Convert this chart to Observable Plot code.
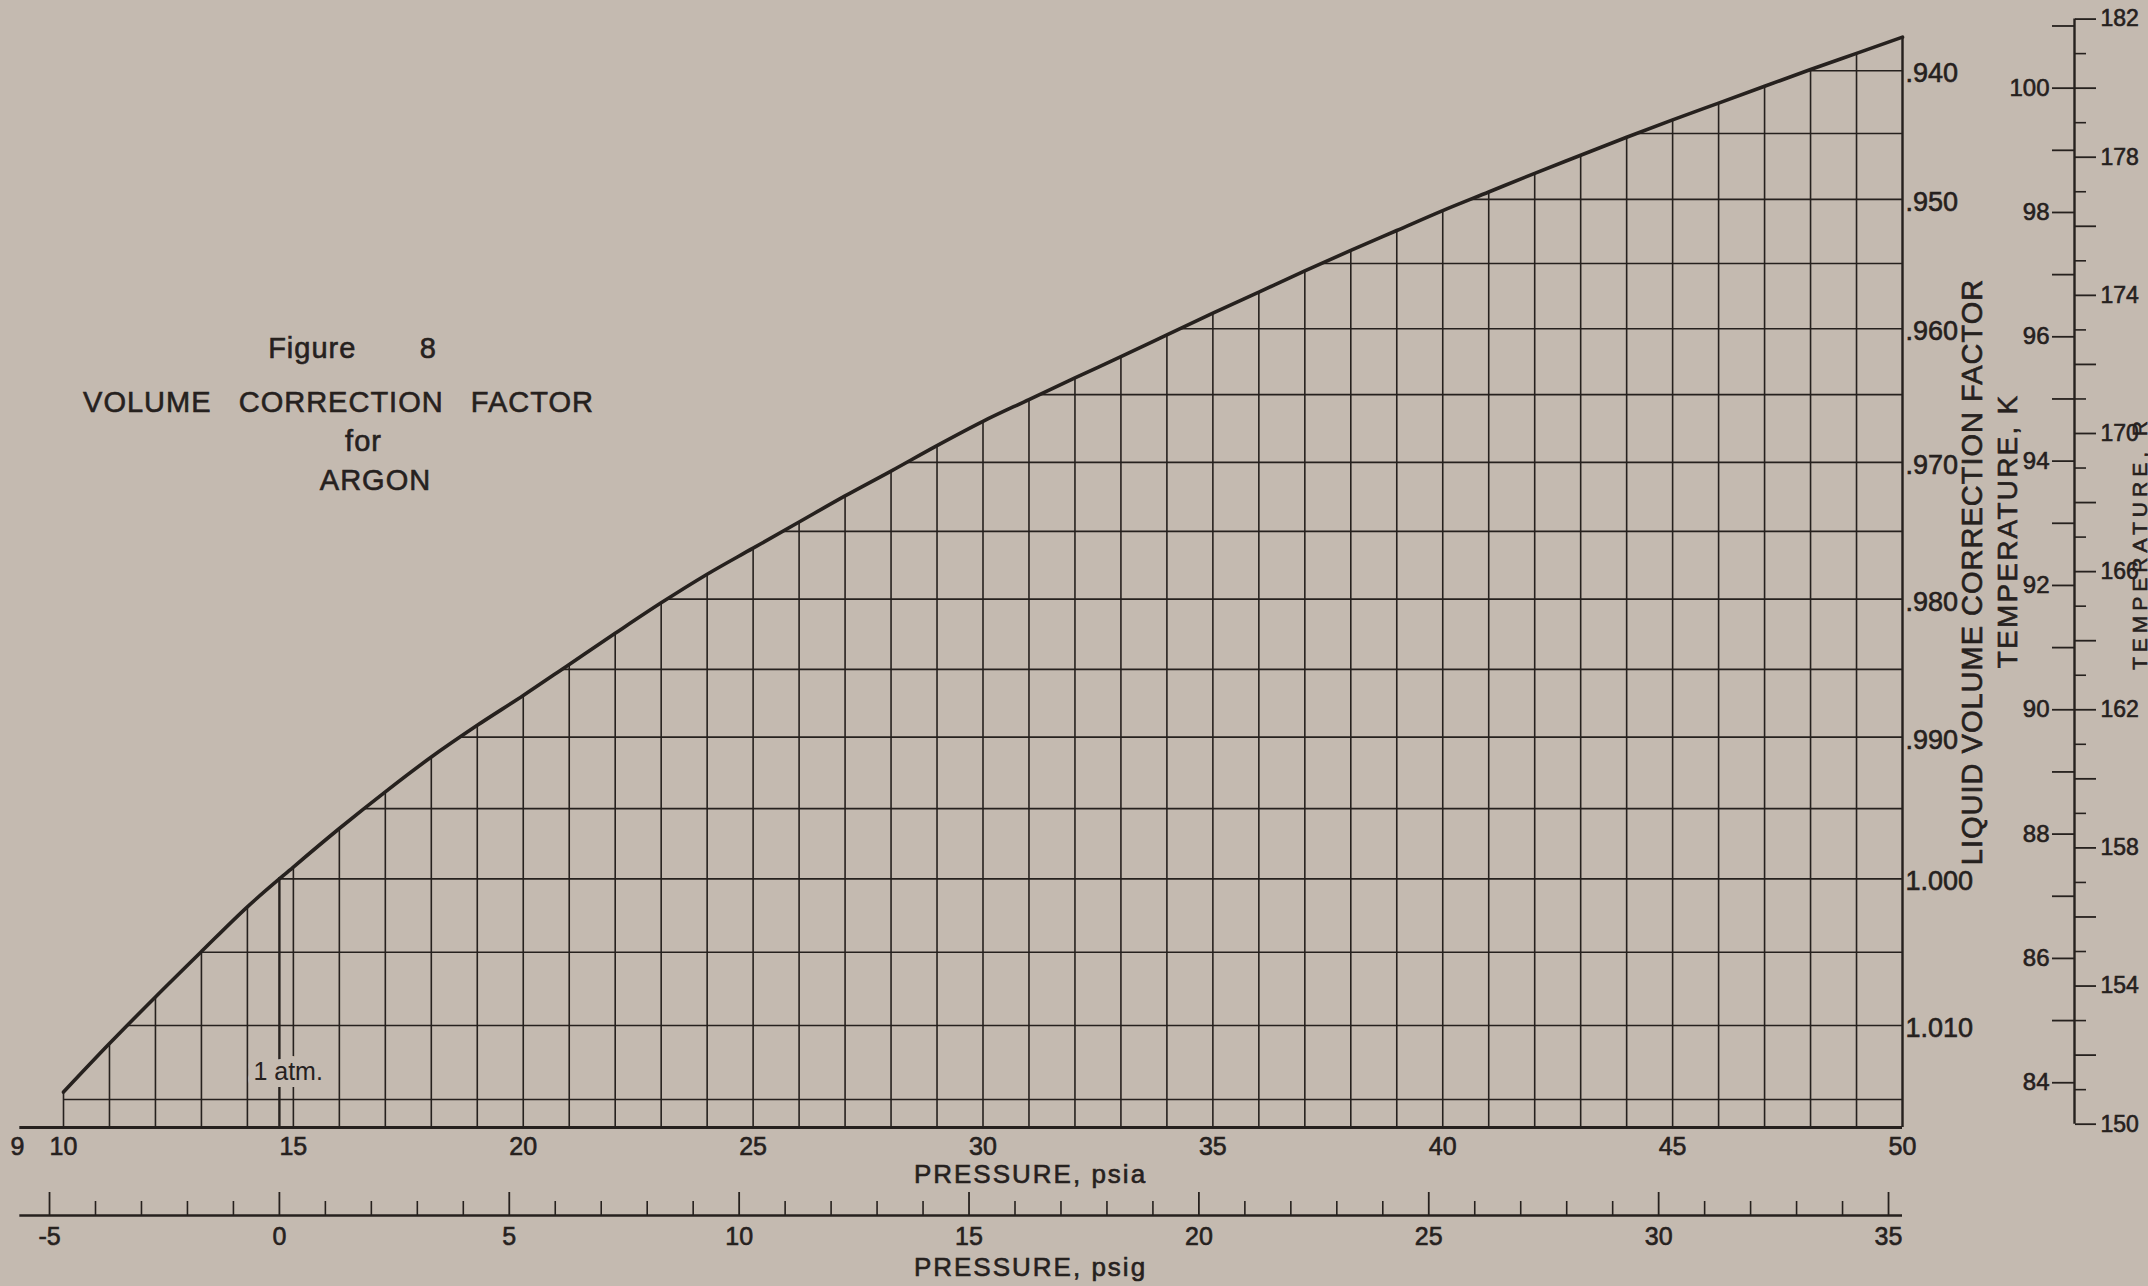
<!DOCTYPE html>
<html>
<head>
<meta charset="utf-8">
<script src="https://cdn.jsdelivr.net/npm/d3@7"></script>
<script src="https://cdn.jsdelivr.net/npm/@observablehq/plot@0.6"></script>
<style>
  html, body { margin: 0; padding: 0; background: #c4bab0; overflow: hidden; }
  #chart svg { display: block; }
  #chart svg g:not([aria-description="atm"]) > text { stroke: #26211e; stroke-width: 0.6px; }
  g[aria-description="title-block"] text { letter-spacing: 1px; }
  g[aria-description="x-title"] text { letter-spacing: 2px; }
  g[aria-description="vcf-title"] text { letter-spacing: 1px; }
  g[aria-description="k-title"] text { letter-spacing: 2.2px; }
  g[aria-description="r-title"] text { letter-spacing: 5px; }
</style>
</head>
<body>
<div id="chart"></div>
<script>
// ---------------- data ----------------
// saturation curve: pressure (psia) -> temperature (K)
const pressurePsia = [10, 11, 12, 13, 14, 15, 16, 17, 18, 19,
                      20, 21, 22, 23, 24, 25, 26, 27, 28, 29,
                      30, 31, 32, 33, 34, 35, 36, 37, 38, 39,
                      40, 41, 42, 43, 44, 45, 46, 47, 48, 49, 50];
const saturationTempK = [83.85, 84.63, 85.38, 86.11, 86.83, 87.47, 88.09, 88.68, 89.24, 89.75,
                         90.23, 90.73, 91.23, 91.72, 92.18, 92.60, 93.02, 93.44, 93.84, 94.25,
                         94.64, 94.99, 95.34, 95.68, 96.03, 96.38, 96.72, 97.06, 97.39, 97.71,
                         98.03, 98.33, 98.63, 98.92, 99.21, 99.49, 99.76, 100.03, 100.30, 100.56, 100.82];

// one atmosphere marker
const atmPsia = 14.696;
const atmTempK = 87.30;
const atmLabel = "1 atm.";
const atmLabelTempK = 84.18;

// liquid volume correction factor lines and the temperature (K) at which each sits
const vcfValues = [0.940, 0.945, 0.950, 0.955, 0.960, 0.965, 0.970, 0.975,
                   0.980, 0.985, 0.990, 0.995, 1.000, 1.005, 1.010, 1.015];
const vcfTempK  = [100.28, 99.27, 98.21, 97.18, 96.13, 95.07, 93.98, 92.87,
                   91.78, 90.65, 89.56, 88.41, 87.28, 86.10, 84.92, 83.73];
const vcfLabelValues = [0.940, 0.950, 0.960, 0.970, 0.980, 0.990, 1.000, 1.010];

// axes
const psiaTickLabels = [9, 10, 15, 20, 25, 30, 35, 40, 45, 50];
const psigMajorTicks = [-5, 0, 5, 10, 15, 20, 25, 30, 35];
const psigMinorTicks = [-4, -3, -2, -1, 1, 2, 3, 4, 6, 7, 8, 9, 11, 12, 13, 14,
                        16, 17, 18, 19, 21, 22, 23, 24, 26, 27, 28, 29, 31, 32, 33, 34];
const kelvinTicks = [84, 85, 86, 87, 88, 89, 90, 91, 92, 93, 94, 95, 96, 97, 98, 99, 100, 101];
const rankineEvenTicks = [150, 152, 154, 156, 158, 160, 162, 164, 166, 168, 170, 172, 174, 176, 178, 180, 182];
const rankineOddTicks = [151, 153, 155, 157, 159, 161, 163, 165, 167, 169, 171, 173, 175, 177, 179, 181];
const rankineLabelTicks = [150, 154, 158, 162, 166, 170, 174, 178, 182];

// extent of the drawing
const chartBottomK = 83.28;
const chartTopK = 101.41;
const axisStartPsia = 9.05;

// texts
const titleLines = ["Figure\u00a0\u00a0\u00a0\u00a0\u00a0\u00a0\u00a08",
                    "VOLUME\u00a0\u00a0\u00a0CORRECTION\u00a0\u00a0\u00a0FACTOR",
                    "for",
                    "ARGON"];
const psiaTitle = "PRESSURE, psia";
const psigTitle = "PRESSURE, psig";
const vcfTitle = "LIQUID VOLUME CORRECTION FACTOR";
const kelvinTitle = "TEMPERATURE, K";
const rankineTitle = "TEMPERATURE, R";

// ---------------- drawing ----------------
const W = 2148, H = 1286;
const BG = "#c4bab0";
const INK = "#26211e";
const FONT = "'Liberation Sans', Arial, Helvetica, sans-serif";
const R_PER_K = 1.8;

const curve = pressurePsia.map((p, i) => ({p, t: saturationTempK[i]}));
const vcf = vcfValues.map((v, i) => ({v, t: vcfTempK[i]}));
const vcfLabelRows = vcf.filter(d => vcfLabelValues.some(l => Math.abs(l - d.v) < 1e-9));
const fmtVcf = v => v < 1 ? "." + Math.round(v * 1000) : v.toFixed(3);
const vcfLabelByTemp = new Map(vcfLabelRows.map(d => [d.t, fmtVcf(d.v)]));

const PSIG_DY = 88;       // offset of the gauge-pressure scale below the absolute one
const TEMP_AXIS_DX = 172; // offset of the temperature scales right of the 50 psia edge

const centered = {textAnchor: "middle", lineAnchor: "middle"};

const chart = Plot.plot({
  width: W,
  height: H,
  marginTop: 0,
  marginBottom: 159,
  marginLeft: 0,
  marginRight: 246,
  x: {domain: [10, 50], range: [63, 1902], axis: null},
  y: {domain: [chartBottomK, chartTopK], axis: null},
  style: {background: BG, color: INK, fontFamily: FONT, fontSize: "25px", overflow: "visible"},
  marks: [
    // horizontal grid (volume correction factor)
    Plot.ruleY(vcf, {y: "t", x1: 10, x2: 50, stroke: INK, strokeWidth: 1.6}),
    // paper above the curve
    Plot.areaY(curve, {x: "p", y1: "t", y2: chartTopK, fill: BG, curve: "monotone-x"}),
    // vertical grid (psia)
    Plot.ruleX(curve, {x: "p", y1: chartBottomK, y2: "t", stroke: INK, strokeWidth: 1.6}),
    // 1 atm line
    Plot.ruleX([{p: atmPsia, t: atmTempK}], {x: "p", y1: chartBottomK, y2: "t", stroke: INK, strokeWidth: 2.4}),
    Plot.text([atmLabel], {x: atmPsia, y: atmLabelTempK, dx: -26, textAnchor: "start", lineAnchor: "middle", fontSize: 25,
      fill: INK, stroke: BG, strokeWidth: 14, strokeLinejoin: "round", paintOrder: "stroke", ariaDescription: "atm"}),
    // saturation curve
    Plot.line(curve, {x: "p", y: "t", stroke: INK, strokeWidth: 3.6, curve: "monotone-x", strokeLinecap: "round"}),
    // 50 psia edge
    Plot.ruleX([curve[curve.length - 1]], {x: "p", y1: chartBottomK, y2: "t", stroke: INK, strokeWidth: 2.2}),
    // psia base line and labels
    Plot.ruleY([chartBottomK], {x1: axisStartPsia, x2: 50, stroke: INK, strokeWidth: 2.8}),
    Plot.axisX(psiaTickLabels, {anchor: "bottom", label: null, tickSize: 0, tickPadding: 10, fontSize: 25, tickFormat: d => String(d)}),
    Plot.text([psiaTitle], {frameAnchor: "bottom", ...centered, dx: 79, dy: 47, fontSize: 26, ariaDescription: "x-title"}),
    // psig scale
    Plot.ruleY([chartBottomK], {x1: axisStartPsia, x2: 50, dy: PSIG_DY, stroke: INK, strokeWidth: 2.4}),
    Plot.axisX(psigMajorTicks.map(v => v + atmPsia), {anchor: "bottom", label: null, dy: PSIG_DY, tickSize: -23, strokeWidth: 1.8, tickFormat: () => ""}),
    Plot.axisX(psigMinorTicks.map(v => v + atmPsia), {anchor: "bottom", label: null, dy: PSIG_DY, tickSize: -14, strokeWidth: 1.6, tickFormat: () => ""}),
    Plot.axisX(psigMajorTicks.map(v => v + atmPsia), {anchor: "bottom", label: null, dy: PSIG_DY, tickSize: 0, tickPadding: 12, fontSize: 25,
      tickFormat: d => String(Math.round(d - atmPsia))}),
    Plot.text([psigTitle], {frameAnchor: "bottom", ...centered, dx: 79, dy: 140, fontSize: 26, ariaDescription: "x-title"}),
    // volume correction factor labels
    Plot.axisY(vcfLabelRows.map(d => d.t), {anchor: "right", label: null, tickSize: 0, tickPadding: 3, dy: 3, fontSize: 27,
      tickFormat: d => vcfLabelByTemp.get(d)}),
    Plot.text([vcfTitle], {frameAnchor: "right", ...centered, rotate: -90, dx: 70, dy: 8, fontSize: 29, ariaDescription: "vcf-title"}),
    // temperature scales
    Plot.ruleX([50], {y1: rankineEvenTicks[0] / R_PER_K, y2: rankineEvenTicks[rankineEvenTicks.length - 1] / R_PER_K,
      dx: TEMP_AXIS_DX, stroke: INK, strokeWidth: 2.4}),
    Plot.axisY(kelvinTicks, {anchor: "left", label: null, dx: 2074, tickSize: 22, tickPadding: 3, strokeWidth: 1.8, fontSize: 24,
      tickFormat: d => d % 2 === 0 ? String(d) : ""}),
    Plot.axisY(rankineEvenTicks.map(r => r / R_PER_K), {anchor: "right", label: null, dx: TEMP_AXIS_DX, tickSize: 21, tickPadding: 5,
      strokeWidth: 1.8, fontSize: 23,
      tickFormat: d => { const r = Math.round(d * R_PER_K); return rankineLabelTicks.includes(r) ? String(r) : ""; }}),
    Plot.axisY(rankineOddTicks.map(r => r / R_PER_K), {anchor: "right", label: null, dx: TEMP_AXIS_DX, tickSize: 11, strokeWidth: 1.6,
      tickFormat: () => ""}),
    Plot.text([kelvinTitle], {frameAnchor: "right", ...centered, rotate: -90, dx: 106, dy: -33, fontSize: 28, ariaDescription: "k-title"}),
    Plot.text([rankineTitle], {frameAnchor: "right", ...centered, rotate: -90, dx: 238, dy: -21, fontSize: 21, ariaDescription: "r-title"}),
    // title block
    Plot.text([titleLines[0]], {frameAnchor: "top-left", ...centered, dx: 352, dy: 348, fontSize: 29, ariaDescription: "title-block"}),
    Plot.text([titleLines[1]], {frameAnchor: "top-left", ...centered, dx: 338, dy: 402, fontSize: 29, ariaDescription: "title-block"}),
    Plot.text([titleLines[2]], {frameAnchor: "top-left", ...centered, dx: 363, dy: 441, fontSize: 29, ariaDescription: "title-block"}),
    Plot.text([titleLines[3]], {frameAnchor: "top-left", ...centered, dx: 375, dy: 480, fontSize: 29, ariaDescription: "title-block"})
  ]
});

document.getElementById("chart").appendChild(chart);
</script>
</body>
</html>
